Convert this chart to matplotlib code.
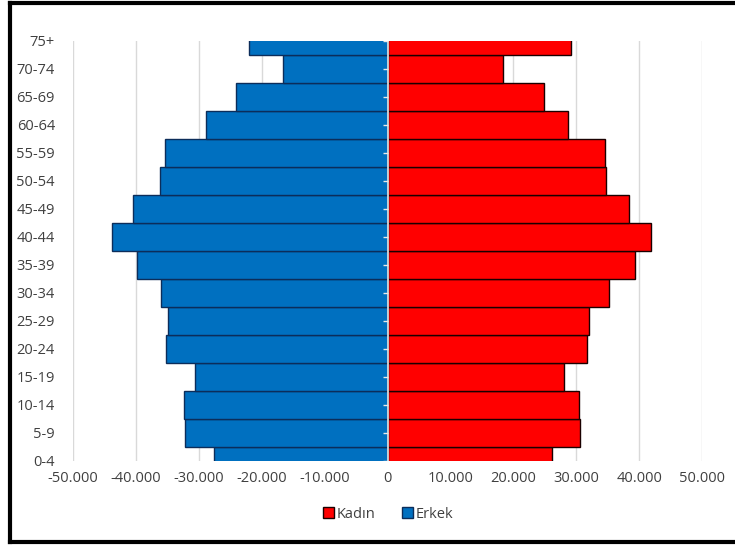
import matplotlib
matplotlib.use('Agg')
import matplotlib.pyplot as plt
from matplotlib.lines import Line2D
from matplotlib.patches import Patch
from matplotlib.ticker import FuncFormatter

# Age groups, bottom to top
age_groups = ["0-4", "5-9", "10-14", "15-19", "20-24", "25-29", "30-34", "35-39",
              "40-44", "45-49", "50-54", "55-59", "60-64", "65-69", "70-74", "75+"]

# Male (Erkek) values plotted to the left
erkek = [-27550, -32270, -32430, -30630, -35290, -34930, -36040, -39900,
         -43770, -40430, -36090, -35450, -28930, -24100, -16570, -22050]

# Female (Kadın) values plotted to the right
kadin = [26230, 30680, 30470, 28090, 31740, 32110, 35240, 39270,
         41970, 38470, 34770, 34610, 28670, 24910, 18330, 29200]

x_ticks = [-50000, -40000, -30000, -20000, -10000, 0, 10000, 20000, 30000, 40000, 50000]

BLUE = "#0070C0"
RED = "#FF0000"

plt.rcParams['font.family'] = ['Open Sans', 'DejaVu Sans']

fig = plt.figure(figsize=(7.35, 5.45), dpi=100)
ax = fig.add_axes([73 / 735, 1 - 461 / 545, (702 - 73) / 735, (461 - 40.7) / 545])

pos = list(range(len(age_groups)))
ax.barh(pos, erkek, height=1.0, color=BLUE, edgecolor="#0C2D5A", linewidth=1.0, zorder=2)
ax.barh(pos, kadin, height=1.0, color=RED, edgecolor="#1a0000", linewidth=1.0, zorder=2)

# light axis line at zero with small ticks
ax.axvline(0, color="#E8E8E8", lw=1.2, zorder=3)
ax.hlines(pos, -700, 0, color="#E8E8E8", lw=1.0, zorder=3)

ax.set_xlim(-50000, 50000)
ax.set_ylim(0, len(age_groups) - 1)
ax.set_xticks(x_ticks)
ax.xaxis.set_major_formatter(FuncFormatter(lambda v, p: f"{int(v):,}".replace(",", ".")))
ax.set_yticks(pos)
ax.set_yticklabels(age_groups)
ax.tick_params(axis="both", length=0, labelsize=10.5, colors="#404040")
ax.tick_params(axis="x", pad=7)
ax.tick_params(axis="y", pad=13)
ax.grid(axis="x", color="#D9D9D9", lw=1.0, zorder=0)
ax.set_axisbelow(True)
for s in ax.spines.values():
    s.set_visible(False)

handles = [Patch(facecolor=RED, edgecolor="#1a0000", label="Kadın"),
           Patch(facecolor=BLUE, edgecolor="#0C2D5A", label="Erkek")]
fig.legend(handles=handles, loc="center", bbox_to_anchor=(388 / 735, 1 - 514 / 545),
           ncol=2, frameon=False, fontsize=10.5, handlelength=0.75, handleheight=0.75,
           handletextpad=0.2, columnspacing=1.8, labelcolor="#404040")

# outer frame (top, left, bottom)
fig.add_artist(Line2D([10 / 735, 1.0], [1 - 3 / 545, 1 - 3 / 545], color="black", lw=3, transform=fig.transFigure))
fig.add_artist(Line2D([10 / 735, 10 / 735], [1 - 3 / 545, 1 - 542 / 545], color="black", lw=3, transform=fig.transFigure))
fig.add_artist(Line2D([10 / 735, 1.0], [1 - 542 / 545, 1 - 542 / 545], color="black", lw=3, transform=fig.transFigure))

fig.savefig("out.png", dpi=100)
